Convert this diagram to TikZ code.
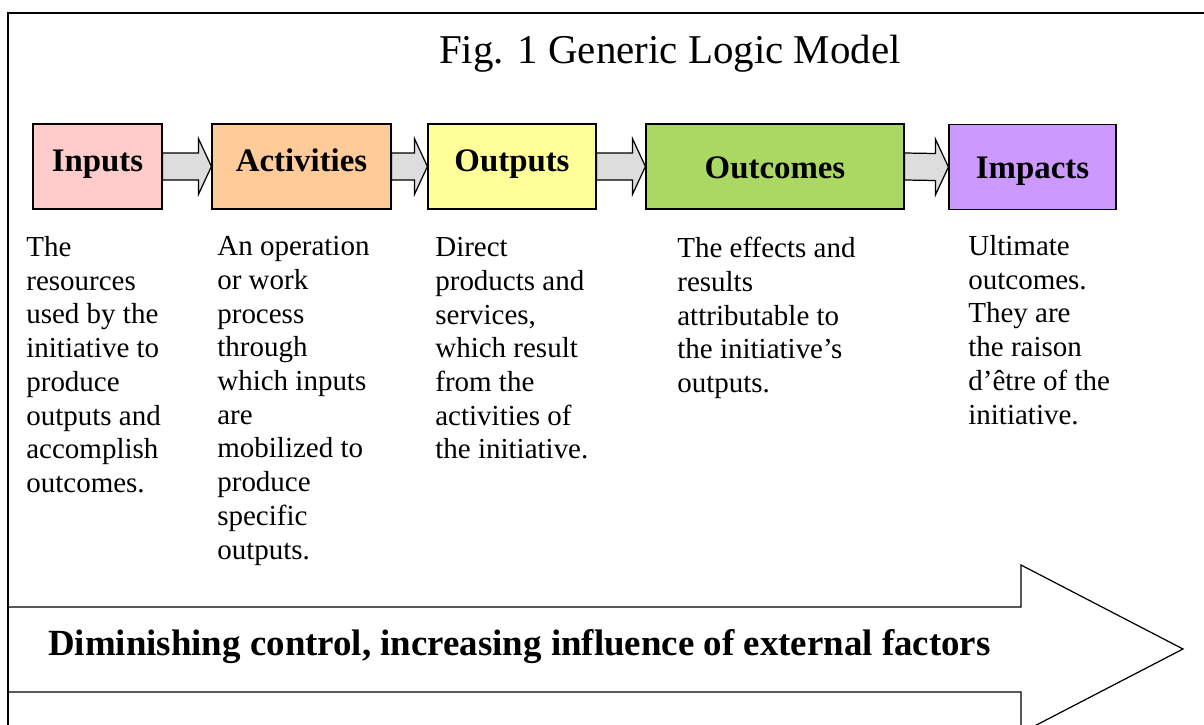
\documentclass[tikz,border=0pt]{standalone}
\usepackage{fontspec}
\setmainfont{Liberation Serif}
\usetikzlibrary{calc}
\definecolor{inputpink}{HTML}{FFCCCC}
\definecolor{activityorange}{HTML}{FFCC99}
\definecolor{outputyellow}{HTML}{FFFF99}
\definecolor{outcomegreen}{HTML}{ABD863}
\definecolor{impactpurple}{HTML}{CC99FF}
\definecolor{linkgray}{HTML}{DDDDDD}
\tikzset{
  logicbox/.style={draw, line width=0.7pt, inner sep=0pt, minimum height=1.7cm,
    font=\fontsize{18.7}{22}\selectfont\bfseries, text height=0.45cm, text depth=0.27cm},
  lowbox/.style={text height=0.5cm, text depth=0.04cm},
  desctext/.style={anchor=north west, inner sep=0pt, align=left,
    font=\fontsize{16.5}{19.2}\selectfont},
  linkarrow/.style={draw, line width=0.7pt, fill=linkgray},
  framing/.style={draw, line width=0.7pt},
}
\newcommand{\linkboxes}[2]{%
  \draw[linkarrow] ($(#1.east)+(0,-13.5)$) -- ($(#2.west)+(-13,-13.5)$) -- ++(0,-14.5)
    -- (#2.west) -- ++(-13,28) -- ++(0,-14.5) -- ($(#1.east)+(0,13.5)$) -- cycle;}
\begin{document}
\begin{tikzpicture}[x=0.02cm,y=-0.02cm]
\useasboundingbox (0,0) rectangle (1204,724);
\clip (0,0) rectangle (1204,724);
\draw[framing] (8,740) |- (1220,13);
\node[anchor=base west, font=\fontsize{23.3}{28}\selectfont] (title) at (433,63) {Fig. 1 Generic Logic Model};

\node[logicbox, fill=inputpink, minimum width=2.58cm] (inputs) at (97.5,166.5) {Inputs};
\node[logicbox, fill=activityorange, minimum width=3.58cm] (activities) at (301.5,166.5) {Activities};
\node[logicbox, fill=outputyellow, minimum width=3.36cm] (outputs) at (512,166.5) {Outputs};
\node[logicbox, lowbox, fill=outcomegreen, minimum width=5.16cm] (outcomes) at (775,166.5) {Outcomes};
\node[logicbox, lowbox, fill=impactpurple, minimum width=3.34cm] (impacts) at (1032.5,167) {Impacts};
\linkboxes{inputs}{activities}
\linkboxes{activities}{outputs}
\linkboxes{outputs}{outcomes}
\linkboxes{outcomes}{impacts}

\node[desctext] (inputsdesc) at (26,236) {The\\resources\\used by the\\initiative to\\produce\\outputs and\\accomplish\\outcomes.};
\node[desctext] (activitiesdesc) at (217,236) {An operation\\or work\\process\\through\\which inputs\\are\\mobilized to\\produce\\specific\\outputs.};
\node[desctext] (outputsdesc) at (435,237) {Direct\\products and\\services,\\which result\\from the\\activities of\\the initiative.};
\node[desctext] (outcomesdesc) at (677,237) {The effects and\\results\\attributable to\\the initiative’s\\outputs.};
\node[desctext] (impactsdesc) at (968,235) {Ultimate\\outcomes.\\They are\\the raison\\d’être of the\\initiative.};

\draw[framing] (8,607) -- (1021,607) -- (1021,565) -- (1183,649) -- (1021,733) -- (1021,692) -- (8,692);
\node[anchor=base west, font=\fontsize{21}{25}\selectfont\bfseries] (control) at (42,655) {Diminishing control, increasing influence of external factors};
\end{tikzpicture}
\end{document}
